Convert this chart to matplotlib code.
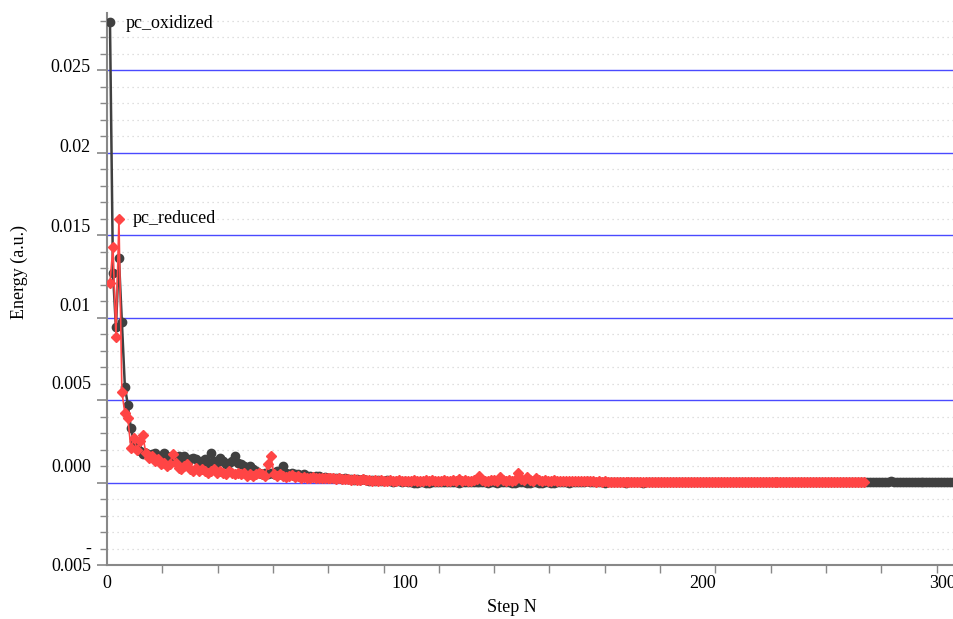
import numpy as np
import matplotlib.pyplot as plt
from matplotlib.ticker import MultipleLocator, FixedLocator, NullFormatter

plt.rcParams['font.family'] = ['Liberation Serif', 'DejaVu Serif']
plt.rcParams['font.size'] = 13

# energies, one value per step starting at step 1
pc_oxidized = [
    0.02790, 0.01270, 0.00940, 0.01360, 0.00970, 0.00580, 0.00470, 0.00330, 0.00250, 0.00210,
    0.00190, 0.00170, 0.00180, 0.00160, 0.00170, 0.00180, 0.00150, 0.00160, 0.00180, 0.00160,
    0.00140, 0.00150, 0.00130, 0.00160, 0.00140, 0.00160, 0.00130, 0.00140, 0.00150, 0.00140,
    0.00120, 0.00130, 0.00140, 0.00120, 0.00180, 0.00130, 0.00120, 0.00150, 0.00130, 0.00110,
    0.00120, 0.00130, 0.00160, 0.00120, 0.00110, 0.00100, 0.00090, 0.00100, 0.00080, 0.00070,
    0.00060, 0.00050, 0.00060, 0.00050, 0.00060, 0.00050, 0.00070, 0.00060, 0.00100, 0.00060,
    0.00050, 0.00060, 0.00050, 0.00050, 0.00040, 0.00050, 0.00040, 0.00040, 0.00035, 0.00040,
    0.00040, 0.00030, 0.00035, 0.00030, 0.00030, 0.00025, 0.00030, 0.00025, 0.00020, 0.00025,
    0.00020, 0.00020, 0.00015, 0.00020, 0.00015, 0.00020, 0.00015, 0.00010, 0.00015, 0.00010,
    0.00015, 0.00010, 0.00010, 0.00015, 0.00010, 0.00005, 0.00010, 0.00010, 0.00005, 0.00010,
    0.00005, 0.00003, 0.00000, -0.00002, 0.00003, 0.00005, 0.00000, -0.00002, 0.00002, 0.00004,
    0.00006, 0.00003, 0.00001, 0.00004, 0.00002, 0.00005, 0.00003, 0.00000, 0.00004, 0.00006,
    0.00003, 0.00002, 0.00005, 0.00003, 0.00001, 0.00004, 0.00002, 0.00000, 0.00003, 0.00001,
    -0.00001, 0.00002, 0.00004, 0.00001, 0.00003, 0.00000, -0.00002, 0.00001, 0.00003, 0.00002,
    -0.00001, -0.00002, 0.00001, 0.00002, 0.00000, -0.00001, 0.00002, 0.00001, -0.00001, 0.00000,
    0.00002, 0.00004, 0.00001, 0.00003, 0.00000, 0.00002, 0.00005, 0.00003, 0.00001, 0.00004,
    0.00008, 0.00003, 0.00001, 0.00002, 0.00004, 0.00002, 0.00000, 0.00003, 0.00002, 0.00001,
    0.00003, 0.00005, 0.00002, 0.00000, 0.00002, 0.00004, 0.00001, 0.00003, 0.00002, 0.00000,
    0.00002, 0.00006, 0.00003, 0.00001, 0.00002, 0.00004, 0.00002, 0.00001, 0.00003, 0.00002,
    0.00001, 0.00003, 0.00002, 0.00004, 0.00001, 0.00002, 0.00005, 0.00002, 0.00001, 0.00003,
    0.00002, 0.00001, 0.00003, 0.00002, 0.00004, 0.00002, 0.00001, 0.00002, 0.00003, 0.00001,
    0.00002, 0.00003, 0.00001, 0.00002, 0.00004, 0.00002, 0.00001, 0.00003, 0.00002, 0.00001,
    0.00002, 0.00003, 0.00002, 0.00001, 0.00002, 0.00004, 0.00002, 0.00001, 0.00002, 0.00003,
    0.00001, 0.00002, 0.00003, 0.00002, 0.00001, 0.00002, 0.00003, 0.00002, 0.00001, 0.00002,
    0.00003, 0.00002, 0.00001, 0.00002, 0.00003, 0.00002, 0.00001, 0.00002, 0.00003, 0.00002,
    0.00001, 0.00002, 0.00003, 0.00002, 0.00004, 0.00002, 0.00006, 0.00003, 0.00002, 0.00005,
    0.00002, 0.00003, 0.00007, 0.00003, 0.00002, 0.00005, 0.00002, 0.00006, 0.00003, 0.00002,
    0.00006, 0.00002, 0.00003, 0.00006, 0.00002, 0.00004, 0.00006, 0.00002, 0.00003, 0.00005,
    0.00002, 0.00004, 0.00006, 0.00002, 0.00003, 0.00004,
]

pc_reduced = [
    0.01210, 0.01430, 0.00880, 0.01600, 0.00550, 0.00420, 0.00390, 0.00210, 0.00270, 0.00200,
    0.00250, 0.00290, 0.00180, 0.00150, 0.00160, 0.00130, 0.00140, 0.00110, 0.00120, 0.00100,
    0.00110, 0.00170, 0.00120, 0.00090, 0.00080, 0.00100, 0.00110, 0.00080, 0.00070, 0.00090,
    0.00070, 0.00080, 0.00070, 0.00060, 0.00070, 0.00080, 0.00060, 0.00070, 0.00060, 0.00050,
    0.00070, 0.00060, 0.00050, 0.00060, 0.00050, 0.00060, 0.00040, 0.00050, 0.00040, 0.00050,
    0.00060, 0.00050, 0.00040, 0.00110, 0.00160, 0.00050, 0.00040, 0.00050, 0.00040, 0.00035,
    0.00040, 0.00045, 0.00035, 0.00040, 0.00030, 0.00035, 0.00030, 0.00030, 0.00035, 0.00030,
    0.00030, 0.00030, 0.00025, 0.00030, 0.00025, 0.00025, 0.00020, 0.00025, 0.00020, 0.00020,
    0.00020, 0.00015, 0.00020, 0.00015, 0.00015, 0.00020, 0.00015, 0.00015, 0.00010, 0.00015,
    0.00010, 0.00015, 0.00010, 0.00010, 0.00015, 0.00010, 0.00010, 0.00015, 0.00010, 0.00010,
    0.00012, 0.00010, 0.00014, 0.00010, 0.00012, 0.00009, 0.00013, 0.00011, 0.00015, 0.00010,
    0.00012, 0.00009, 0.00013, 0.00011, 0.00010, 0.00014, 0.00012, 0.00020, 0.00011, 0.00013,
    0.00010, 0.00012, 0.00015, 0.00022, 0.00040, 0.00018, 0.00012, 0.00010, 0.00013, 0.00015,
    0.00012, 0.00035, 0.00016, 0.00011, 0.00013, 0.00012, 0.00018, 0.00060, 0.00020, 0.00013,
    0.00035, 0.00015, 0.00012, 0.00030, 0.00014, 0.00011, 0.00016, 0.00012, 0.00010, 0.00013,
    0.00011, 0.00009, 0.00012, 0.00010, 0.00008, 0.00011, 0.00009, 0.00007, 0.00010, 0.00008,
    0.00009, 0.00007, 0.00008, 0.00006, 0.00008,
    0.00005, 0.00007, 0.00004, 0.00006, 0.00005, 0.00003, 0.00006, 0.00004, 0.00005, 0.00003,
    0.00004, 0.00006, 0.00003, 0.00005, 0.00004, 0.00003, 0.00005, 0.00004, 0.00002, 0.00004,
    0.00003, 0.00005, 0.00003, 0.00004, 0.00002, 0.00004, 0.00003, 0.00005, 0.00003, 0.00002,
    0.00004, 0.00003, 0.00002, 0.00004, 0.00003, 0.00002, 0.00003, 0.00004, 0.00002, 0.00003,
    0.00002, 0.00004, 0.00003, 0.00002, 0.00003, 0.00002, 0.00004, 0.00003, 0.00002, 0.00003,
    0.00002, 0.00003, 0.00004, 0.00002, 0.00003, 0.00002, 0.00003, 0.00002, 0.00004, 0.00003,
    0.00002, 0.00003, 0.00002, 0.00003, 0.00004, 0.00002, 0.00003, 0.00002, 0.00003, 0.00002,
    0.00003, 0.00004, 0.00002, 0.00003, 0.00002, 0.00003, 0.00002, 0.00004, 0.00003, 0.00002,
    0.00003, 0.00002, 0.00003, 0.00002, 0.00003, 0.00004, 0.00002, 0.00003, 0.00002,
]

y_ticks = [0.025, 0.02, 0.015, 0.01, 0.005, 0.0]
y_tick_labels = ["0.025", "0.02", "0.015", "0.01", "0.005", "0.000"]
x_ticks = [0, 100, 200]
x_tick_labels = ["0", "100", "200"]

PX = 0.72  # points per pixel at dpi 100

fig = plt.figure(figsize=(9.54, 6.19), dpi=100)
ax = fig.add_axes([107 / 954, 54 / 619, 846 / 954, 552 / 619])

steps_ox = np.arange(1, len(pc_oxidized) + 1)
steps_red = np.arange(1, len(pc_reduced) + 1)

ax.plot(steps_ox, pc_oxidized, color='#404040', lw=1.8, marker='o', ms=6,
        mfc='#404040', mec='#404040', zorder=3)
ax.plot(steps_red, pc_reduced, color='#ff4545', lw=1.2, marker='D', ms=4.8,
        mfc='#ff4545', mec='#ff4545', zorder=4)

ax.set_xlim(0, 283.9)
ax.set_ylim(-0.005, 0.02846)

# grid: dotted every 0.001, blue solid at the labelled values
ax.yaxis.set_major_locator(MultipleLocator(0.005))
ax.yaxis.set_minor_locator(MultipleLocator(0.001))
ax.grid(which='major', axis='y', color='#4a4aff', lw=1.0, ls='-')
ax.grid(which='minor', axis='y', color='#d5d5d5', lw=0.9, ls=(0, (1, 3)))
ax.grid(which='major', axis='x', visible=False)

ax.xaxis.set_major_locator(FixedLocator(x_ticks))
ax.xaxis.set_minor_locator(MultipleLocator(18.56))
ax.xaxis.set_major_formatter(NullFormatter())
ax.yaxis.set_major_formatter(NullFormatter())

ax.tick_params(axis='y', which='major', length=10 * PX, width=1.2, color='#888888')
ax.tick_params(axis='y', which='minor', length=7 * PX, width=1.0, color='#888888')
ax.tick_params(axis='x', which='major', length=0)
ax.tick_params(axis='x', which='minor', length=8 * PX, width=1.0, color='#888888')

for side in ['top', 'right']:
    ax.spines[side].set_visible(False)
for side in ['left', 'bottom']:
    ax.spines[side].set_color('#888888')
    ax.spines[side].set_linewidth(1.5)

# y labels drift upwards from their lines, as in the original
y_shift_px = [3, 5, 8, 11, 16, 15]
for v, t, s in zip(y_ticks, y_tick_labels, y_shift_px):
    ax.annotate(t, xy=(0, v), xycoords=ax.get_yaxis_transform(),
                xytext=(-16 * PX, s * PX), textcoords='offset points',
                ha='right', va='center', annotation_clip=False)
ax.annotate("-\n0.005", xy=(0, -0.005), xycoords=ax.get_yaxis_transform(),
            xytext=(-16 * PX, 7 * PX), textcoords='offset points',
            ha='right', va='center', multialignment='right', linespacing=1.0,
            annotation_clip=False)

for v, t in zip(x_ticks, x_tick_labels):
    ax.annotate(t, xy=(v, 0), xycoords=ax.get_xaxis_transform(),
                xytext=(0, -19 * PX), textcoords='offset points',
                ha='center', va='center', annotation_clip=False)
ax.annotate("300", xy=(1, 0), xycoords='axes fraction',
            xytext=(-10 * PX, -19 * PX), textcoords='offset points',
            ha='center', va='center', annotation_clip=False)

ax.set_ylabel("Energy (a.u.)")
ax.yaxis.set_label_coords(-0.093, 0.53)
ax.set_xlabel("Step N")
ax.xaxis.set_label_coords(0.479, -0.062)

# series names next to their highest point
i_ox = int(np.argmax(pc_oxidized))
ax.annotate("pc_oxidized", xy=(steps_ox[i_ox], pc_oxidized[i_ox]),
            xytext=(16 * PX, -1 * PX), textcoords='offset points',
            ha='left', va='center')
i_red = int(np.argmax(pc_reduced))
ax.annotate("pc_reduced", xy=(steps_red[i_red], pc_reduced[i_red]),
            xytext=(14 * PX, 0), textcoords='offset points',
            ha='left', va='center')

fig.savefig("out.png", dpi=100)
